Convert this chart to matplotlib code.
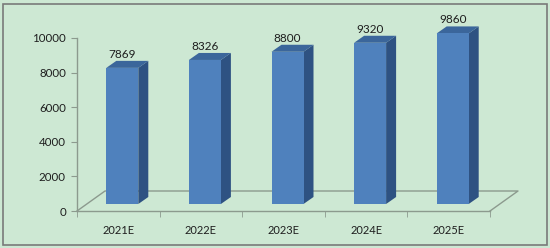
import matplotlib
matplotlib.use('Agg')
import matplotlib.pyplot as plt
from matplotlib.patches import Polygon, Rectangle

categories = ['2021E', '2022E', '2023E', '2024E', '2025E']
values = [7869, 8326, 8800, 9320, 9860]

W, H = 550, 248
C_BG = "#CDE8D3"
C_FRONT = "#4F81BD"
C_SIDE = "#2E5282"
C_TOP = "#3B669B"
C_AX = "#8C9A8E"
C_TXT = "#1E1E1E"
FONT = 'Lato'

fig = plt.figure(figsize=(W / 100, H / 100), dpi=100)
fig.patch.set_facecolor(C_BG)
fig.patches.append(Rectangle((3 / W, 3 / H), 544 / W, 241 / H, transform=fig.transFigure,
                             fill=False, ec="#7A7A7A", lw=1.2))

# plot area in pixels: x 77..490, y(0)=211, y(10000)=38
ax = fig.add_axes([77 / W, (H - 211) / H, 413 / W, 173 / H])
ax.set_facecolor('none')
ax.set_xlim(-0.5, 4.5)
ax.set_ylim(0, 10000)

px_x = 5 / 413          # data units per pixel, x
px_y = 10000 / 173      # data units per pixel, y

# floor parallelogram
fdx, fdy = 28 * px_x, 20 * px_y
ax.plot([-0.5, -0.5 + fdx, 4.5 + fdx, 4.5], [0, fdy, fdy, 0],
        color=C_AX, lw=1, clip_on=False, zorder=1)

# bars
bw = 32 * px_x
off_x, off_y = 4 * px_x, 7 * px_y
ddx, ddy = 10 * px_x, 7 * px_y
for i, v in enumerate(values):
    x0 = i - bw / 2 + off_x
    y0 = off_y
    y1 = v + off_y
    ax.add_patch(Polygon([(x0 + bw, y0), (x0 + bw + ddx, y0 + ddy),
                          (x0 + bw + ddx, y1 + ddy), (x0 + bw, y1)],
                         closed=True, fc=C_SIDE, ec='none', zorder=3, clip_on=False))
    ax.add_patch(Polygon([(x0, y1), (x0 + ddx, y1 + ddy), (x0 + bw + ddx, y1 + ddy),
                          (x0 + bw, y1)],
                         closed=True, fc=C_TOP, ec='none', zorder=3, clip_on=False))
    ax.add_patch(Rectangle((x0, y0), bw, v, fc=C_FRONT, ec='none', zorder=4, clip_on=False))
    ax.text(x0 + bw / 2, y1 + ddy + 1 * px_y, str(v), ha='center', va='bottom',
            fontsize=8.5, color=C_TXT, family=FONT, zorder=5)

for s in ['top', 'right']:
    ax.spines[s].set_visible(False)
for s in ['left', 'bottom']:
    ax.spines[s].set_color(C_AX)
    ax.spines[s].set_linewidth(1)

ax.set_yticks(range(0, 10001, 2000))
ax.tick_params(axis='y', length=4, color=C_AX, pad=4, labelsize=8.3, labelcolor=C_TXT)
ax.set_xticks(range(len(categories)))
ax.set_xticklabels(categories)
ax.set_xticks([k - 0.5 for k in range(len(categories) + 1)], minor=True)
ax.tick_params(axis='x', which='major', length=0, pad=10, labelsize=8, labelcolor=C_TXT)
ax.tick_params(axis='x', which='minor', length=4, color=C_AX)
for lab in ax.get_xticklabels() + ax.get_yticklabels():
    lab.set_family(FONT)

fig.savefig('out.png', dpi=100, facecolor=C_BG)
